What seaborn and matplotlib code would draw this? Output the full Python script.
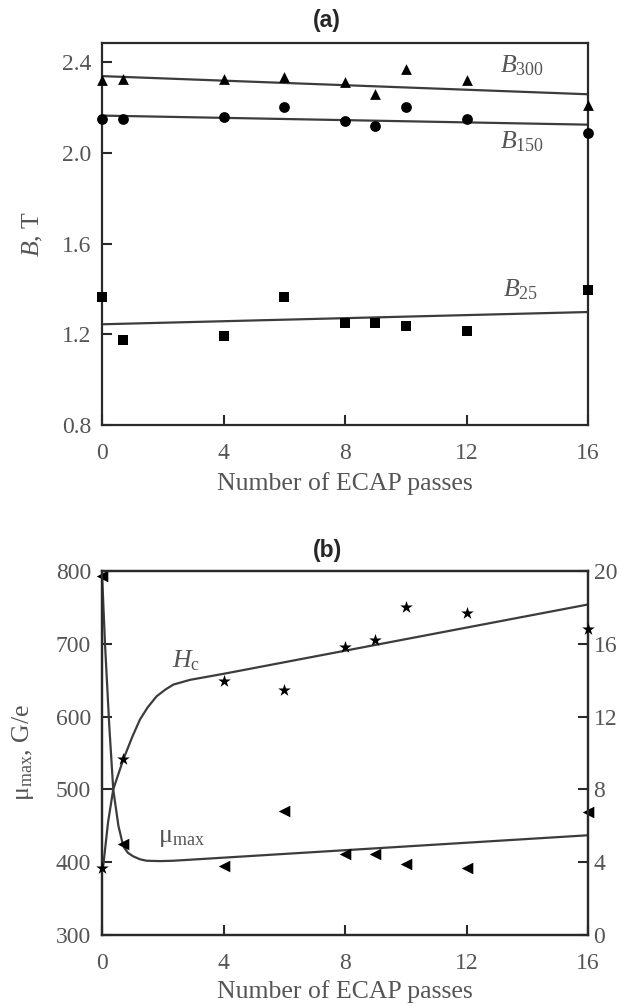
import matplotlib
matplotlib.use("Agg")
import matplotlib.pyplot as plt
import seaborn as sns

sns.set_theme(style="ticks")
plt.rcParams["font.family"] = ["Liberation Serif", "DejaVu Serif"]
plt.rcParams["mathtext.fontset"] = "custom"
plt.rcParams["mathtext.rm"] = "Liberation Serif"
plt.rcParams["mathtext.it"] = "Liberation Serif:italic"

# (a) saturation induction vs ECAP passes
passes = [0, 0.7, 4, 6, 8, 9, 10, 12, 16]
b300 = [2.32, 2.325, 2.325, 2.335, 2.31, 2.26, 2.37, 2.32, 2.21]
b150 = [2.147, 2.147, 2.157, 2.20, 2.138, 2.117, 2.20, 2.147, 2.087]
b25 = [1.364, 1.174, 1.191, 1.364, 1.25, 1.25, 1.235, 1.213, 1.393]
fit_x = [0, 16]
b300_fit = [2.338, 2.258]
b150_fit = [2.164, 2.124]
b25_fit = [1.244, 1.298]

# (b) max permeability (left) and coercive force (right)
mu_max = [793, 425, 395, 470, 411, 411, 397, 392, 469]
hc = [3.7, 9.65, 13.96, 13.48, 15.8, 16.2, 18.0, 17.7, 16.8]
mu_curve_x = [0, 0.1, 0.24, 0.37, 0.54, 0.7, 0.85, 1.03, 1.25, 1.47, 1.9, 2.35, 16]
mu_curve_y = [797, 699, 587, 500, 450, 422, 413, 408, 404, 402, 401.5, 402, 437]
hc_curve_x = [0, 0.04, 0.2, 0.37, 0.7, 1.0, 1.25, 1.5, 1.8, 2.1, 2.35, 2.9, 3.4, 4.0, 16]
hc_curve_y = [3.6, 3.8, 6.2, 8.0, 9.64, 10.9, 11.84, 12.5, 13.12, 13.5, 13.76, 14.02, 14.17, 14.35, 18.16]

grey = "#555555"
line_c = "#3c3c3c"
fs_tick = 17
fs_lab = 18.5

fig = plt.figure(figsize=(6.37, 10.06), dpi=100)
ax1 = fig.add_axes([102 / 637, 1 - 425 / 1006, 486 / 637, 382 / 1006])
ax2 = fig.add_axes([102 / 637, 1 - 935 / 1006, 486 / 637, 364 / 1006])
ax3 = ax2.twinx()

# panel a
for yv, fv, mk in [(b300, b300_fit, "^"), (b150, b150_fit, "o"), (b25, b25_fit, "s")]:
    sns.lineplot(x=fit_x, y=fv, ax=ax1, color=line_c, lw=1.6)
    sns.scatterplot(x=passes, y=yv, ax=ax1, marker=mk, color="black", s=60,
                    edgecolor="black", linewidth=0, clip_on=False, zorder=5)

ax1.text(13.1, 2.355, r"$B_{300}$", fontsize=fs_lab, color=grey)
ax1.text(13.1, 2.02, r"$B_{150}$", fontsize=fs_lab, color=grey)
ax1.text(13.2, 1.365, r"$B_{25}$", fontsize=fs_lab, color=grey)

ax1.set_xlim(0, 16)
ax1.set_ylim(0.8, 2.484)
ax1.set_xticks([0, 4, 8, 12, 16])
ax1.set_yticks([0.8, 1.2, 1.6, 2.0, 2.4])
ax1.set_xlabel("Number of ECAP passes", fontsize=fs_lab, color=grey, labelpad=6)
ax1.set_ylabel(r"$B$, T", fontsize=fs_lab, color=grey, labelpad=12)

# panel b
sns.lineplot(x=mu_curve_x, y=mu_curve_y, ax=ax2, color=line_c, lw=1.6, sort=False)
sns.scatterplot(x=passes, y=mu_max, ax=ax2, marker="<", color="black", s=70,
                linewidth=0, clip_on=False, zorder=5)
sns.lineplot(x=hc_curve_x, y=hc_curve_y, ax=ax3, color=line_c, lw=1.6, sort=False)
sns.scatterplot(x=passes, y=hc, ax=ax3, marker="*", color="black", s=90,
                linewidth=0, clip_on=False, zorder=5)

ax2.text(2.3, 667, r"$H_{\rm c}$", fontsize=fs_lab, color=grey)
ax2.text(1.85, 428, "μ$_{\\rm max}$", fontsize=fs_lab, color=grey)

ax2.set_xlim(0, 16)
ax2.set_ylim(300, 800)
ax3.set_ylim(0, 20)
ax2.set_xticks([0, 4, 8, 12, 16])
ax2.set_yticks([300, 400, 500, 600, 700, 800])
ax3.set_yticks([0, 4, 8, 12, 16, 20])
ax2.set_xlabel("Number of ECAP passes", fontsize=fs_lab, color=grey, labelpad=4)
ax2.set_ylabel("μ$_{\\rm max}$, G/e", fontsize=fs_lab, color=grey, labelpad=14)

for ax in (ax1, ax2, ax3):
    for sp in ax.spines.values():
        sp.set_visible(True)
        sp.set_linewidth(1.6)
        sp.set_color("#2a2a2a")
    ax.tick_params(direction="in", length=7, width=1.5, color="#2a2a2a",
                   labelsize=fs_tick, labelcolor=grey, pad=8)
ax1.tick_params(axis="x", pad=13)
ax2.tick_params(axis="x", pad=13)
ax3.tick_params(axis="y", pad=4)

fig.text(327 / 637, 1 - 20 / 1006, "(a)", ha="center", va="center",
         fontsize=16.5, fontweight="bold", family="Liberation Sans")
fig.text(327 / 637, 1 - 550 / 1006, "(b)", ha="center", va="center",
         fontsize=16.5, fontweight="bold", family="Liberation Sans")

fig.savefig("out.png", dpi=100)
